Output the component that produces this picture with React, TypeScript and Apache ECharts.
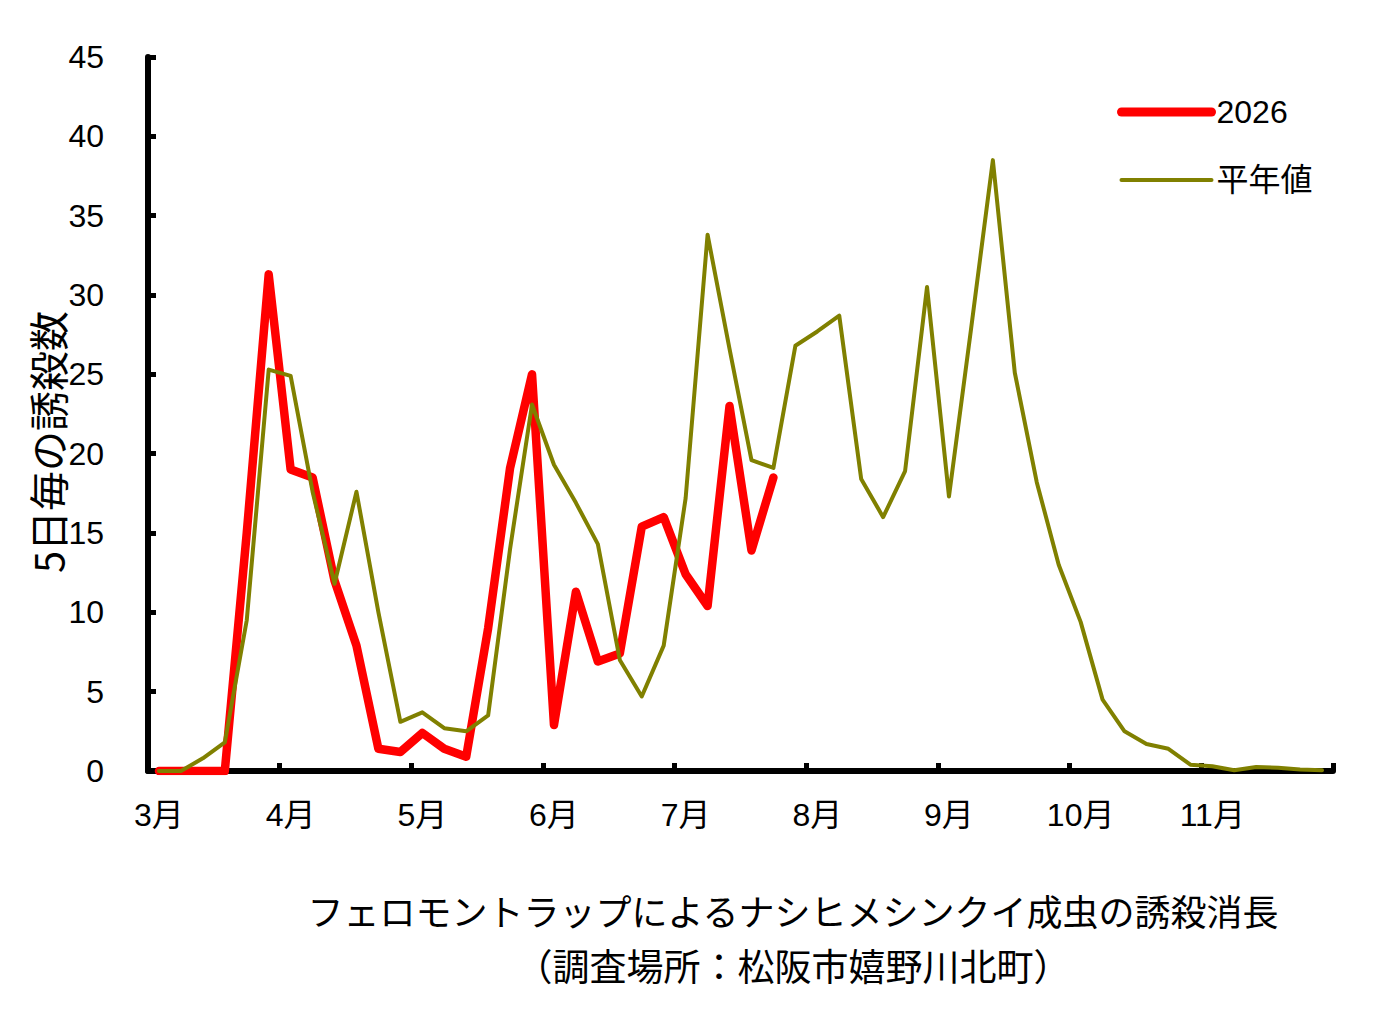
import React, { useEffect, useRef } from "react";
import * as echarts from "echarts";

const months = ["3月", "4月", "5月", "6月", "7月", "8月", "9月", "10月", "11月"];
const periods = ["1-5日", "6-10日", "11-15日", "16-20日", "21-25日", "26日-"];
const categories = months.flatMap((m) => periods.map((p) => `${m}${p}`));

const yTicks = { min: 0, max: 45, interval: 5 };

const series2026 = [
  0, 0, 0, 0, 15, 31.3, 19.0, 18.5, 12.0, 7.9,
  1.4, 1.2, 2.4, 1.4, 0.9, 9.0, 19.1, 25.0, 2.9, 11.3,
  6.9, 7.4, 15.4, 16.0, 12.4, 10.4, 23.0, 13.9, 18.5,
];

const seriesNormal = [
  0, 0, 0.8, 1.8, 9.5, 25.3, 24.9, 17.6, 11.8, 17.6,
  10.0, 3.1, 3.7, 2.7, 2.5, 3.5, 14.0, 23.1, 19.3, 16.9,
  14.3, 7.0, 4.7, 7.9, 17.2, 33.8, 26.6, 19.6, 19.1, 26.8,
  27.7, 28.7, 18.4, 16.0, 18.9, 30.5, 17.3, 27.8, 38.5, 25.1,
  18.2, 13.0, 9.4, 4.5, 2.5, 1.7, 1.4, 0.4, 0.3, 0.05,
  0.25, 0.2, 0.1, 0.05,
];

const yAxisTitle = "5日毎の誘殺数";
const titleLine1 = "フェロモントラップによるナシヒメシンクイ成虫の誘殺消長";
const titleLine2 = "（調査場所：松阪市嬉野川北町）";

const FONT = "'Noto Sans CJK JP', 'Noto Sans', sans-serif";
const NUMFONT = "'Liberation Sans', 'Noto Sans CJK JP', sans-serif";

export default function App() {
  const ref = useRef<HTMLDivElement>(null);

  useEffect(() => {
    if (!ref.current) return;
    const chart = echarts.init(ref.current, undefined, { renderer: "svg" });
    chart.setOption({
      animation: false,
      backgroundColor: "#ffffff",
      textStyle: { fontFamily: FONT, color: "#000" },
      grid: { left: 148, right: 59, top: 57, bottom: 257, containLabel: false },
      legend: {
        orient: "vertical",
        left: 1117,
        top: 92,
        padding: 0,
        itemWidth: 90,
        itemHeight: 14,
        itemGap: 28,
        selectedMode: false,
        textStyle: { fontSize: 32, fontFamily: NUMFONT, color: "#000", lineHeight: 40 },
        data: [
          {
            name: "2026",
            itemStyle: { opacity: 0 },
            lineStyle: { color: "#ff0000", width: 9, cap: "round" },
          },
          {
            name: "平年値",
            itemStyle: { opacity: 0 },
            lineStyle: { color: "#808000", width: 4, cap: "round" },
          },
        ],
      },
      xAxis: {
        type: "category",
        data: categories,
        boundaryGap: true,
        axisLine: { show: true, lineStyle: { color: "#000", width: 6 } },
        axisTick: {
          show: true,
          inside: true,
          interval: 5,
          length: 8,
          lineStyle: { color: "#000", width: 5 },
        },
        axisLabel: {
          interval: 5,
          margin: 28,
          fontSize: 32,
          color: "#000",
          fontFamily: NUMFONT,
          formatter: (_v: string, idx: number) => months[Math.floor(idx / 6)],
        },
        splitLine: { show: false },
      },
      yAxis: {
        type: "value",
        min: yTicks.min,
        max: yTicks.max,
        interval: yTicks.interval,
        axisLine: { show: true, lineStyle: { color: "#000", width: 6 } },
        axisTick: { show: true, inside: true, length: 8, lineStyle: { color: "#000", width: 5 } },
        axisLabel: { margin: 44, fontSize: 32, color: "#000", fontFamily: NUMFONT },
        splitLine: { show: false },
      },
      graphic: [
        {
          type: "text",
          x: 47,
          y: 442,
          rotation: Math.PI / 2,
          style: {
            text: yAxisTitle,
            fontSize: 40,
            fontFamily: FONT,
            fill: "#000",
            textAlign: "center",
            textVerticalAlign: "middle",
          },
        },
        {
          type: "text",
          x: 793,
          y: 910,
          style: {
            text: titleLine1,
            fontSize: 36,
            fontFamily: FONT,
            fill: "#000",
            textAlign: "center",
            textVerticalAlign: "middle",
          },
        },
        {
          type: "text",
          x: 793,
          y: 965,
          style: {
            text: titleLine2,
            fontSize: 37,
            fontFamily: FONT,
            fill: "#000",
            textAlign: "center",
            textVerticalAlign: "middle",
          },
        },
      ],
      series: [
        {
          name: "2026",
          type: "line",
          data: series2026,
          symbol: "none",
          lineStyle: { color: "#ff0000", width: 8.5, cap: "round", join: "round" },
          itemStyle: { color: "#ff0000" },
        },
        {
          name: "平年値",
          type: "line",
          data: seriesNormal,
          symbol: "none",
          lineStyle: { color: "#808000", width: 4, cap: "round", join: "round" },
          itemStyle: { color: "#808000" },
        },
      ],
    });
    return () => chart.dispose();
  }, []);

  return (
    <div
      ref={ref}
      style={{ position: "absolute", left: 0, top: 0, width: 1392, height: 1028, background: "#fff" }}
    />
  );
}
